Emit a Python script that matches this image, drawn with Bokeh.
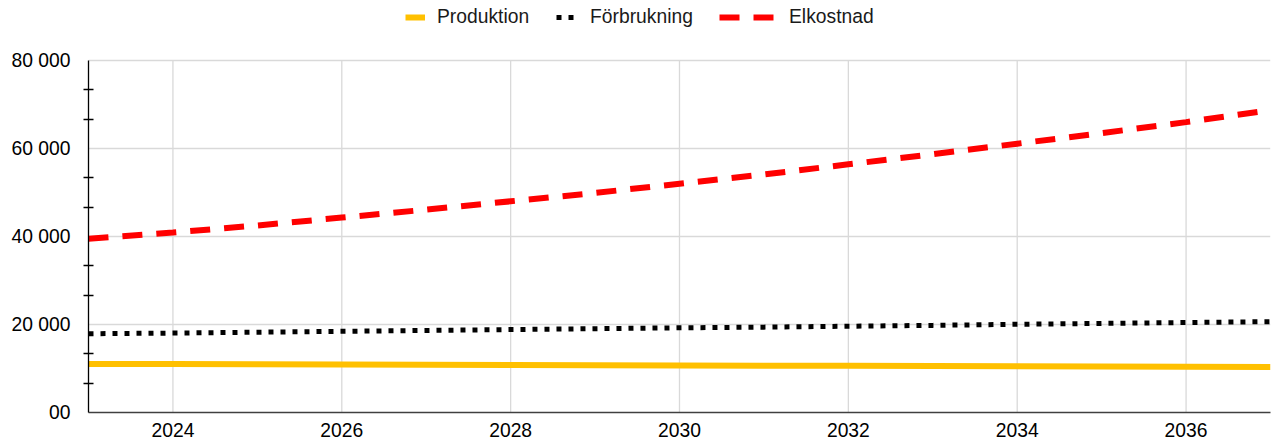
from bokeh.plotting import figure
from bokeh.models import Range1d, FixedTicker, Legend, LegendItem
from bokeh.embed import file_html
from bokeh.resources import INLINE

years = list(range(2023, 2038))
produktion = [11050, 11000, 10950, 10900, 10850, 10800, 10750, 10700,
              10650, 10600, 10550, 10500, 10450, 10400, 10350]
forbrukning = [17900, 18050, 18250, 18450, 18650, 18850, 19050, 19250,
               19400, 19600, 19800, 20050, 20250, 20450, 20650]
elkostnad = [39500, 40900, 42500, 44300, 46100, 48000, 49900, 52000,
             54100, 56400, 58700, 61100, 63500, 66000, 68700]

series_names = ["Produktion", "Förbrukning", "Elkostnad"]
x_ticks = [2024, 2026, 2028, 2030, 2032, 2034, 2036]
y_ticks = [0, 20000, 40000, 60000, 80000]
y_tick_labels = ["00", "20 000", "40 000", "60 000", "80 000"]

FONT = "Liberation Sans"
FS = "19.3px"

# frame spans the legend area too; data area is the lower 352 px
FRAME_H = 412
DATA_H = 352
y_top = y_ticks[-1] * FRAME_H / DATA_H

p = figure(width=1272, height=444, output_backend="svg", toolbar_location=None,
           x_range=Range1d(2023, 2037), y_range=Range1d(0, y_top),
           min_border_left=88, min_border_right=2, min_border_top=0,
           min_border_bottom=32)
p.outline_line_color = None
p.background_fill_color = "white"

# vertical grid lines limited to the data area
p.segment(x0=x_ticks, x1=x_ticks, y0=[y_ticks[0]] * len(x_ticks),
          y1=[y_ticks[-1]] * len(x_ticks), line_color="#D9D9D9", line_width=1.3)

r1 = p.line(years, produktion, line_color="#FFC000", line_width=6)
r2 = p.line(years, forbrukning, line_color="#000000", line_width=5, line_dash="5 7")
r3 = p.line(years, elkostnad, line_color="#FF0000", line_width=6, line_dash="20 14")

minor = []
for i in range(len(y_ticks) - 1):
    step = (y_ticks[i + 1] - y_ticks[i]) / 3
    minor += [y_ticks[i] + step, y_ticks[i] + 2 * step]

p.xaxis.ticker = FixedTicker(ticks=x_ticks)
p.yaxis.ticker = FixedTicker(ticks=y_ticks, minor_ticks=minor)
p.yaxis.major_label_overrides = {t: l for t, l in zip(y_ticks, y_tick_labels)}
p.yaxis.bounds = (y_ticks[0], y_ticks[-1])

for ax in (p.xaxis[0], p.yaxis[0]):
    ax.major_label_text_font = FONT
    ax.major_label_text_font_size = FS
    ax.major_label_text_color = "#000000"
    ax.major_tick_in = 0
    ax.major_tick_out = 0

p.xaxis.axis_line_color = "#404040"
p.xaxis.axis_line_width = 1.3
p.xaxis.minor_tick_line_color = None
p.xaxis.major_label_standoff = 10

p.yaxis.axis_line_color = "#000000"
p.yaxis.axis_line_width = 1.3
p.yaxis.minor_tick_in = 5
p.yaxis.minor_tick_out = 5
p.yaxis.minor_tick_line_color = "#000000"
p.yaxis.minor_tick_line_width = 1.3
p.yaxis.major_label_standoff = 13

p.xgrid.visible = False
p.ygrid.grid_line_color = "#D9D9D9"
p.ygrid.grid_line_width = 1.3

legend_specs = [(r1, series_names[0], 317, 20, 12),
                (r2, series_names[1], 468, 20, 14),
                (r3, series_names[2], 631, 56, 14)]
for rend, name, lx, gw, so in legend_specs:
    leg = Legend(items=[LegendItem(label=name, renderers=[rend])],
                 location=(lx, FRAME_H - 28), orientation="horizontal",
                 glyph_width=gw, glyph_height=20, label_height=20,
                 label_standoff=so, padding=0, margin=0, spacing=0,
                 border_line_alpha=0, background_fill_alpha=0,
                 label_text_font=FONT, label_text_font_size=FS,
                 label_text_color="#1a1a1a")
    p.add_layout(leg, "center")

open("out.html", "w").write(file_html(p, INLINE))
